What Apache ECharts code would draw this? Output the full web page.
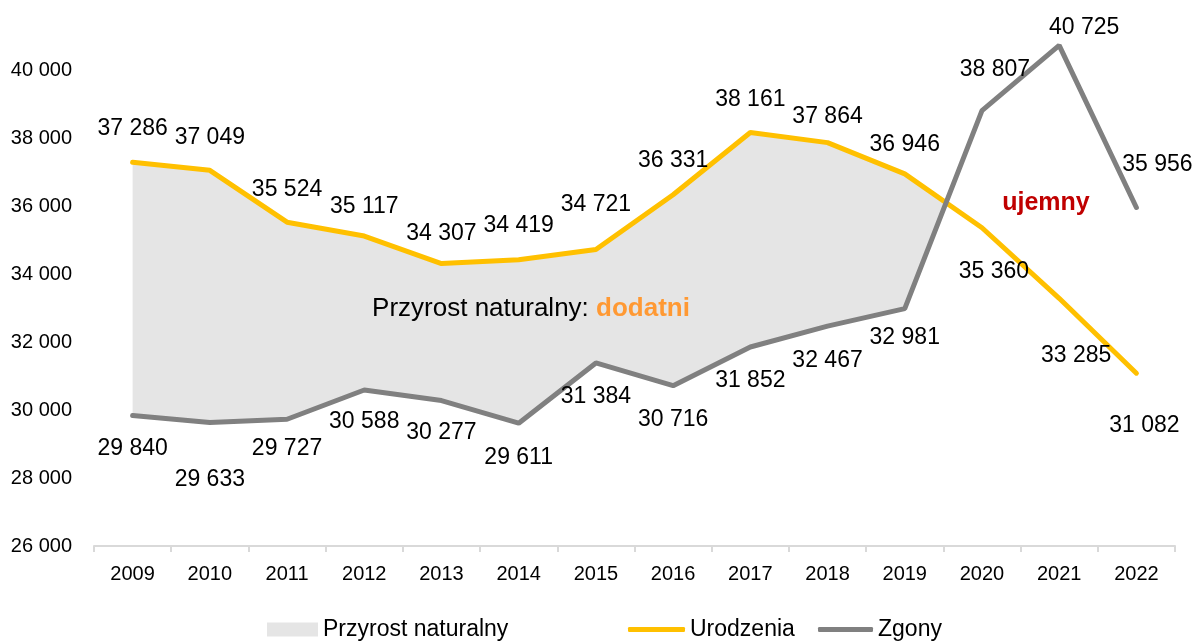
<!DOCTYPE html>
<html>
<head>
<meta charset="utf-8">
<script src="https://cdn.jsdelivr.net/npm/echarts@6/dist/echarts.min.js"></script>
<style>
  html, body { margin: 0; padding: 0; background: #fff; }
  #chart { width: 1193px; height: 642px; }
</style>
</head>
<body>
<div id="chart"></div>
<script>
// data
const years = ['2009', '2010', '2011', '2012', '2013', '2014', '2015', '2016', '2017', '2018', '2019', '2020', '2021', '2022']
const births = [37286, 37049, 35524, 35117, 34307, 34419, 34721, 36331, 38161, 37864, 36946, 35360, 33285, 31082]
const deaths = [29840, 29633, 29727, 30588, 30277, 29611, 31384, 30716, 31852, 32467, 32981, 38807, 40725, 35956]
const yMin = 26000
const yMax = 42000
const yStep = 2000

// label placement (pixels from the point to the label centre)
const birthsLabelShift = [[0, -34], [0, -33], [0, -33], [0, -29], [0, -30], [0, -34], [0, -45], [0, -34], [0, -33], [0, -26], [0, -29], [12, 44], [17, 57], [8, 52]]
const deathsLabelShift = [[0, 33], [0, 57], [0, 29], [0, 32], [0, 32], [0, 34], [0, 34], [0, 34], [0, 34], [0, 35], [0, 29], [13, -41], [25, -18], [21, -43]]

const FONT = '"Liberation Sans", Arial, sans-serif'
const YELLOW = '#FFC000'
const GREY = '#808080'
const FILL = '#E5E5E5'

const fmt = (v) => String(v).replace(/\B(?=(\d{3})+(?!\d))/g, ' ')

const chart = echarts.init(document.getElementById('chart'))

const lineData = (values, shifts) =>
  values.map((v, i) => ({
    value: v,
    label: { offset: shifts[i] },
  }))

// polygon between the two lines where births exceed deaths
const renderGap = (params, api) => {
  if (params.dataIndex !== 0) return null
  const top = []
  const bottom = []
  for (let i = 0; i < years.length; i++) {
    const d = births[i] - deaths[i]
    if (d >= 0) {
      top.push(api.coord([i, births[i]]))
      bottom.push(api.coord([i, deaths[i]]))
    }
    if (i + 1 < years.length) {
      const d2 = births[i + 1] - deaths[i + 1]
      if (d >= 0 && d2 < 0) {
        const t = d / (d - d2)
        const a = api.coord([i, births[i]])
        const b = api.coord([i + 1, births[i + 1]])
        top.push([a[0] + t * (b[0] - a[0]), a[1] + t * (b[1] - a[1])])
      }
    }
  }
  return {
    type: 'polygon',
    shape: { points: top.concat(bottom.reverse()) },
    style: { fill: FILL },
  }
}

const legendBase = {
  orient: 'horizontal',
  top: 618,
  padding: 0,
  itemGap: 0,
  textStyle: { fontFamily: FONT, fontSize: 23, color: '#000' },
  selectedMode: false,
}

const option = {
  animation: false,
  backgroundColor: '#fff',
  grid: { left: 94, right: 18, top: 2, bottom: 96 },
  legend: [
    Object.assign({}, legendBase, {
      left: 267,
      itemWidth: 51,
      itemHeight: 14,
      data: [{ name: 'Przyrost naturalny', icon: 'rect', itemStyle: { color: FILL } }],
    }),
    Object.assign({}, legendBase, {
      left: 628,
      itemWidth: 57,
      itemHeight: 5,
      data: [{ name: 'Urodzenia', icon: 'roundRect', itemStyle: { color: YELLOW } }],
    }),
    Object.assign({}, legendBase, {
      left: 818,
      itemWidth: 55,
      itemHeight: 5,
      data: [{ name: 'Zgony', icon: 'roundRect', itemStyle: { color: GREY } }],
    }),
  ],
  xAxis: {
    type: 'category',
    data: years,
    boundaryGap: true,
    axisLine: { lineStyle: { color: '#D9D9D9', width: 2 } },
    axisTick: { show: true, length: 6, lineStyle: { color: '#D9D9D9', width: 2 } },
    axisLabel: { color: '#000', fontFamily: FONT, fontSize: 20, margin: 18 },
    splitLine: { show: false },
  },
  yAxis: {
    type: 'value',
    min: yMin,
    max: yMax,
    interval: yStep,
    axisLine: { show: false },
    axisTick: { show: false },
    splitLine: { show: false },
    axisLabel: {
      color: '#000',
      fontFamily: FONT,
      fontSize: 20,
      margin: 22,
      showMaxLabel: false,
      formatter: (v) => (v >= yMax ? '' : fmt(v)),
    },
  },
  graphic: [
    {
      type: 'text',
      x: 531,
      y: 309,
      z: 20,
      style: {
        text: '{a|Przyrost naturalny: }{b|dodatni}',
        align: 'center',
        verticalAlign: 'middle',
        rich: {
          a: { fontFamily: FONT, fontSize: 26, fill: '#000' },
          b: { fontFamily: FONT, fontSize: 26, fontWeight: 'bold', fill: '#FF9933' },
        },
      },
    },
    {
      type: 'text',
      x: 1046,
      y: 203,
      z: 20,
      style: {
        text: 'ujemny',
        align: 'center',
        verticalAlign: 'middle',
        font: 'bold 25px "Liberation Sans", Arial, sans-serif',
        fill: '#C00000',
      },
    },
  ],
  series: [
    {
      name: 'Przyrost naturalny',
      type: 'custom',
      renderItem: renderGap,
      data: years.map((y, i) => [i, births[i], deaths[i]]),
      encode: { x: 0, y: [1, 2] },
      itemStyle: { color: FILL },
      clip: false,
      silent: true,
      z: 1,
    },
    {
      name: 'Urodzenia',
      type: 'line',
      data: lineData(births, birthsLabelShift),
      color: YELLOW,
      symbol: 'circle',
      symbolSize: 0,
      showSymbol: true,
      lineStyle: { color: YELLOW, width: 5, cap: 'round' },
      label: {
        show: true,
        position: 'inside',
        formatter: (p) => fmt(p.value),
        fontFamily: FONT,
        fontSize: 23,
        color: '#000',
      },
      emphasis: { disabled: true },
      z: 3,
    },
    {
      name: 'Zgony',
      type: 'line',
      data: lineData(deaths, deathsLabelShift),
      color: GREY,
      symbol: 'circle',
      symbolSize: 0,
      showSymbol: true,
      lineStyle: { color: GREY, width: 5, cap: 'round' },
      label: {
        show: true,
        position: 'inside',
        formatter: (p) => fmt(p.value),
        fontFamily: FONT,
        fontSize: 23,
        color: '#000',
      },
      emphasis: { disabled: true },
      z: 4,
    },
  ],
}

chart.setOption(option)
</script>
</body>
</html>
